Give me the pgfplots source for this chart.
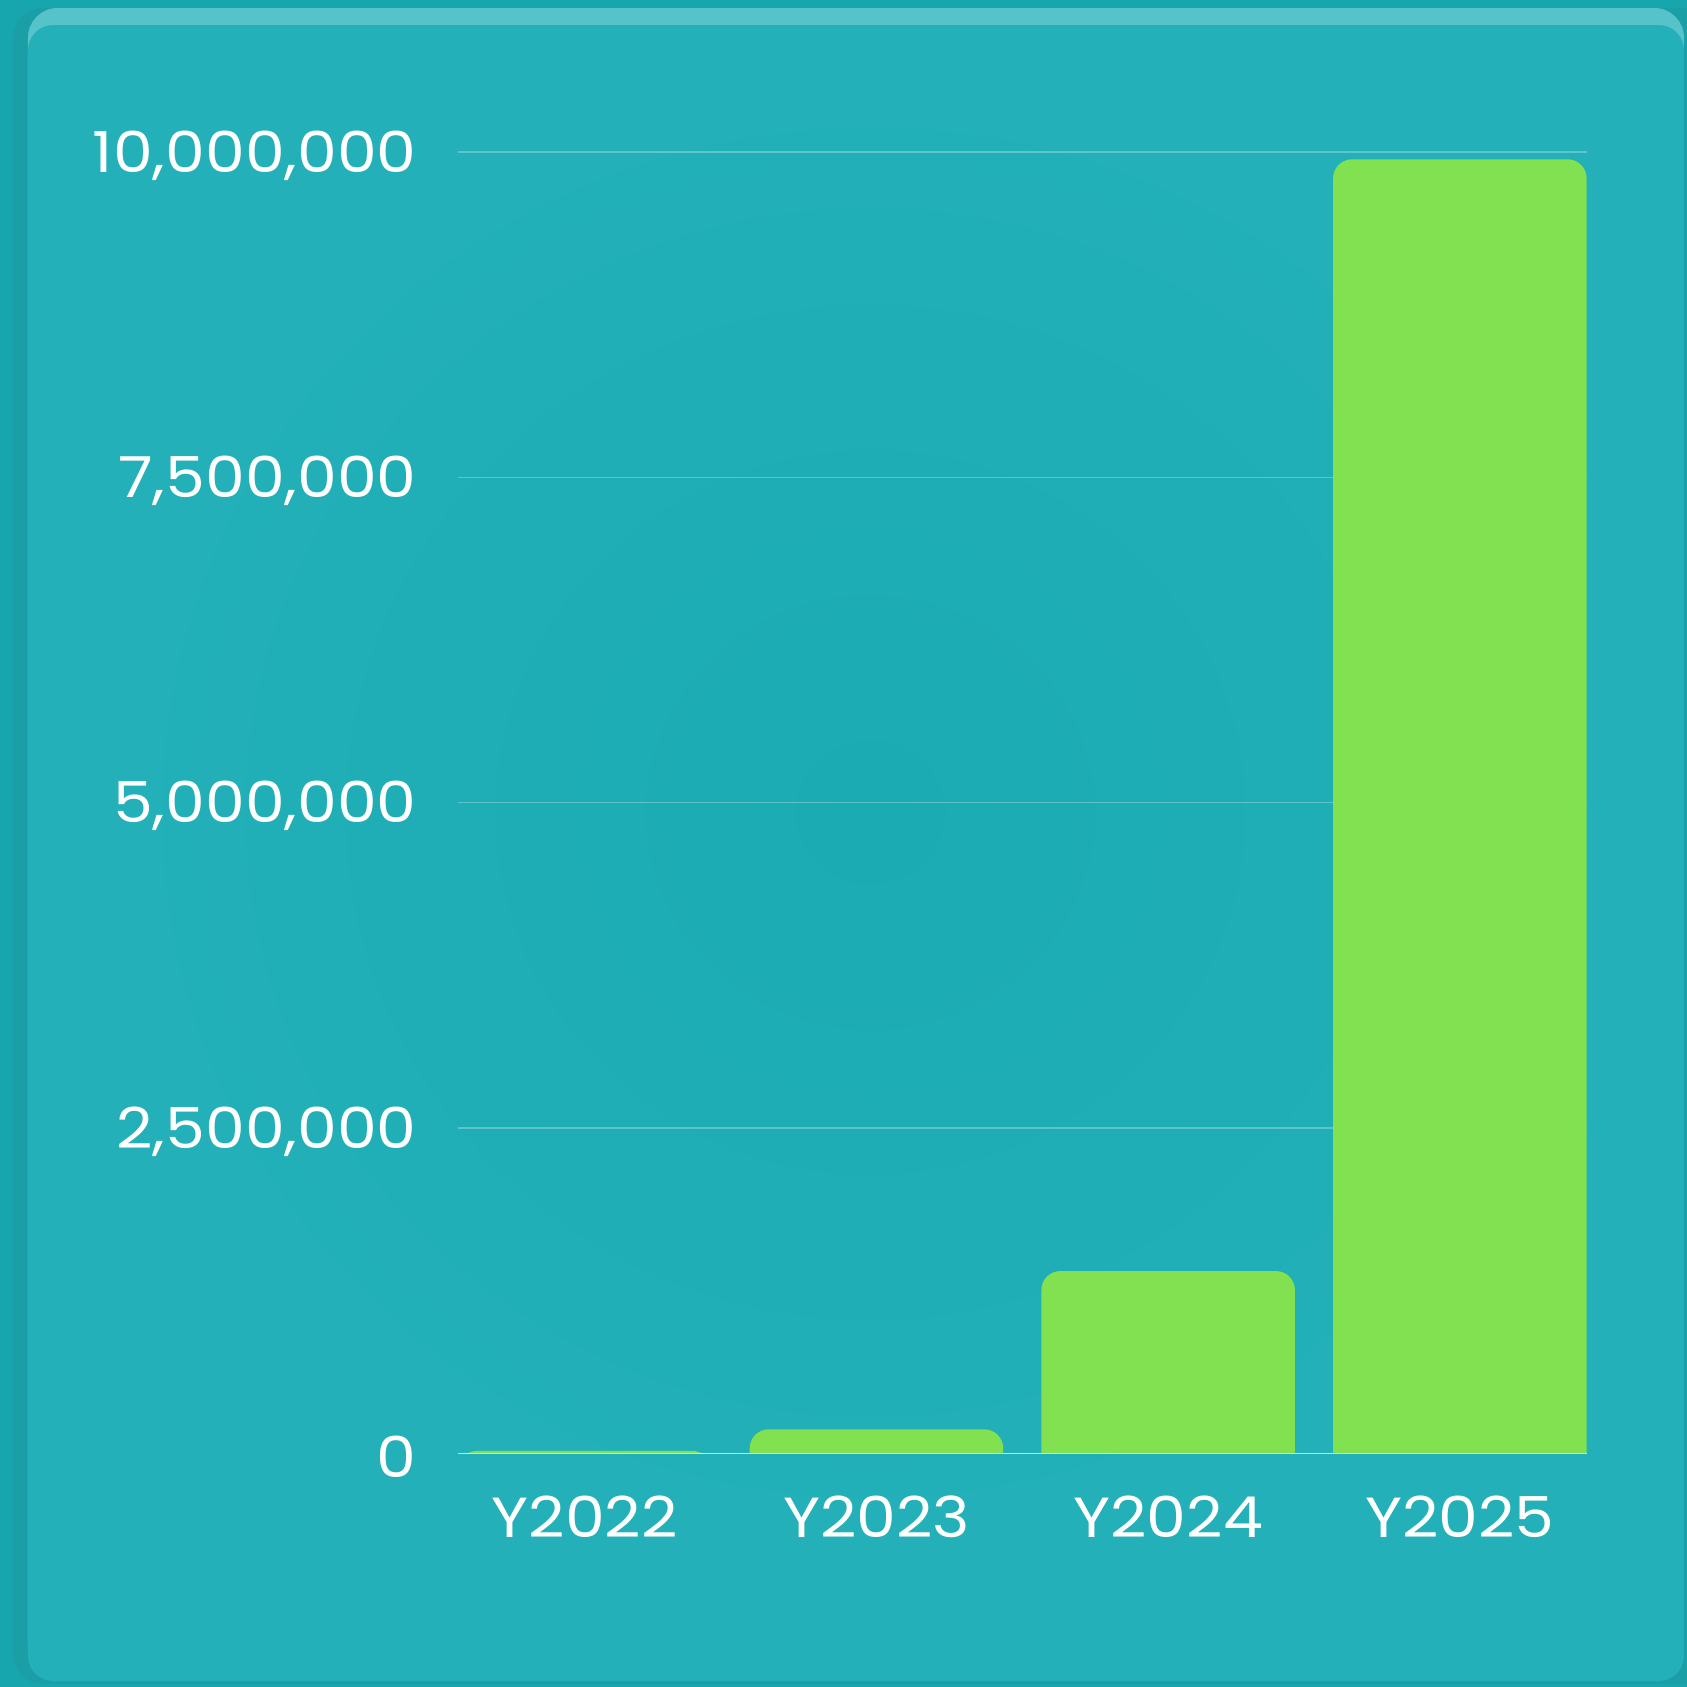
\documentclass[border=0pt]{standalone}
\usepackage{pgfplots}
\usepackage{pgfplotstable}
\pgfplotsset{compat=1.18}
\usepackage{fontspec}
\setmainfont{Poppins}[FakeStretch=1.12]
\definecolor{outer}{HTML}{18A6AE}
\definecolor{card}{HTML}{23B0B8}
\definecolor{cardin}{HTML}{1AABB3}
\definecolor{hl}{HTML}{55C3C9}
\definecolor{shadow}{HTML}{1B9FA7}
\definecolor{barc}{HTML}{82E150}
\pgfplotstableread{
x v
0 20000
1 186000
2 1402000
3 9944000
}\data
\begin{document}
\begin{tikzpicture}
\useasboundingbox (0,0) rectangle (400pt,400pt);
\begin{scope}[x=0.23711pt,y=0.23711pt]
\clip (0,0) rectangle (1687,1687);
\fill[outer] (0,0) rectangle (1687,1687);
\fill[shadow, rounded corners=7pt] (13,3) rectangle (1720,1679);
\fill[hl, rounded corners=7pt] (28,10) rectangle (1684,1679);
\fill[card, rounded corners=6pt] (28,6) rectangle (1684,1662);
\shade[inner color=cardin, outer color=card] (120,150) rectangle (1620,1600);
\end{scope}
\begin{axis}[
  at={(108.6pt,55.36pt)}, anchor=south west,
  scale only axis, width=267.6pt, height=308.6pt,
  xmin=-0.4345, xmax=3.4345, ymin=0, ymax=10000000,
  axis line style={draw=none},
  tick style={draw=none},
  xtick={0,1,2,3},
  xticklabels={Y2022,Y2023,Y2024,Y2025},
  ytick={0,2500000,5000000,7500000,10000000},
  scaled y ticks=false,
  /pgf/number format/fixed,
  /pgf/number format/1000 sep={,},
  /pgf/number format/assume math mode=true,
  ticklabel style={font=\fontsize{13.4}{15}\selectfont, text=white},
  yticklabel style={xshift=-6.3pt, yshift=-0.8pt},
  xticklabel style={yshift=-6.6pt},
  ymajorgrids, major grid style={draw=white, draw opacity=0.28, line width=0.35pt},
  ybar stacked, stack negative=on previous, bar width=0.869,
]
\addplot[draw=none, fill=none, forget plot] coordinates {(0,-400000) (1,-400000) (2,-400000) (3,-400000)};
\addplot[fill=barc, draw=none, rounded corners=4.5pt] table[x=x, y expr=\thisrow{v}+400000] {\data};
\end{axis}
\draw[white, opacity=0.6, line width=0.35pt] (108.6pt,55.36pt) -- (376.2pt,55.36pt);
\end{tikzpicture}
\end{document}
